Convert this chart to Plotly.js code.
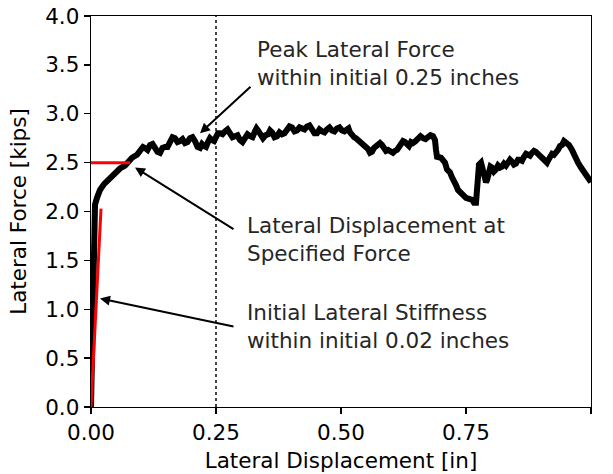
<!DOCTYPE html>
<html>
<head>
<meta charset="utf-8">
<script src="https://cdn.plot.ly/plotly-3.0.1.min.js"></script>
<style>html,body{margin:0;padding:0;background:#fff;}#chart{width:613px;height:474px;}</style>
</head>
<body>
<div id="chart"></div>
<script>
// Lateral displacement [in] and lateral force [kips]
const dispIn = [0,0.001,0.002,0.003,0.004,0.006,0.008,0.012,0.018,0.026,0.038,0.048,0.058,0.068,0.074,0.082,0.092,
0.100,0.104,0.108,0.113,0.118,0.123,0.128,0.133,0.138,0.143,0.148,0.153,0.158,0.163,0.168,0.173,0.178,0.183,0.188,0.193,0.198,0.203,0.208,0.213,0.218,0.222,0.226,0.230,0.234,0.238,0.242,0.246,0.250,0.254,0.258,0.263,0.268,0.273,0.278,0.283,0.288,0.293,0.298,0.303,0.308,0.313,0.318,0.323,0.328,0.331,0.334,0.339,0.344,0.349,0.354,0.358,0.362,0.367,0.372,0.377,0.382,0.387,0.392,0.397,0.402,0.407,0.412,0.417,0.422,0.427,0.432,0.437,0.442,0.447,0.452,0.457,0.462,0.467,0.472,0.477,0.482,0.487,0.492,0.497,0.502,0.507,0.512,0.515,0.518,0.522,0.526,0.530,0.534,0.539,0.544,0.549,0.554,0.558,0.562,0.566,0.570,0.574,0.578,0.582,0.586,0.590,0.594,0.599,0.604,0.608,0.612,0.616,0.620,0.624,0.628,0.632,0.636,0.640,0.644,0.649,0.654,0.659,0.664,0.669,0.674,0.679,0.684,0.688,
0.690,0.692,0.700,0.708,0.712,0.718,0.722,0.726,0.730,0.734,0.740,0.744,0.750,0.756,0.762,0.766,0.770,0.772,0.774,
0.776,0.780,0.784,0.788,0.790,0.792,0.796,0.799,0.802,0.806,0.810,0.814,0.818,0.822,0.826,0.830,0.834,0.838,0.842,0.846,0.850,0.854,0.858,0.862,0.866,0.870,0.874,0.878,0.882,0.886,0.890,0.894,0.898,0.902,0.906,0.909,0.912,0.915,0.918,0.922,0.926,0.930,0.934,0.938,0.942,0.946,0.950,0.953,0.956,
0.962,0.968,0.974,0.980,0.986,0.992,0.998,1.000];
const forceKips = [0,0.28,0.79,1.30,1.71,1.97,2.07,2.14,2.22,2.28,2.34,2.41,2.44,2.47,2.51,2.55,2.58,
2.63,2.66,2.65,2.63,2.68,2.69,2.65,2.61,2.60,2.65,2.66,2.66,2.71,2.76,2.75,2.71,2.72,2.74,2.70,2.71,2.75,2.76,2.72,2.66,2.65,2.69,2.67,2.66,2.71,2.75,2.73,2.72,2.76,2.80,2.80,2.79,2.82,2.84,2.80,2.76,2.77,2.78,2.73,2.71,2.75,2.79,2.77,2.76,2.82,2.85,2.83,2.78,2.75,2.78,2.79,2.83,2.81,2.76,2.77,2.81,2.79,2.80,2.84,2.87,2.86,2.82,2.83,2.86,2.85,2.84,2.87,2.88,2.84,2.80,2.80,2.84,2.82,2.81,2.84,2.86,2.83,2.82,2.85,2.86,2.83,2.82,2.84,2.85,2.81,2.77,2.76,2.75,2.73,2.72,2.68,2.67,2.64,2.60,2.61,2.65,2.67,2.70,2.70,2.68,2.66,2.62,2.63,2.61,2.60,2.62,2.63,2.66,2.69,2.72,2.71,2.68,2.67,2.71,2.70,2.72,2.74,2.77,2.75,2.74,2.76,2.78,2.77,2.73,
2.63,2.56,2.55,2.50,2.43,2.40,2.35,2.32,2.27,2.22,2.19,2.15,2.14,2.13,2.12,2.09,2.09,2.22,2.37,
2.48,2.50,2.43,2.34,2.30,2.32,2.40,2.46,2.45,2.41,2.43,2.47,2.45,2.46,2.49,2.47,2.50,2.53,2.51,2.48,2.49,2.53,2.53,2.52,2.56,2.59,2.58,2.57,2.60,2.62,2.61,2.58,2.57,2.55,2.53,2.50,2.50,2.53,2.55,2.59,2.58,2.60,2.63,2.67,2.68,2.72,2.71,2.70,2.68,
2.63,2.55,2.50,2.45,2.40,2.37,2.32,2.30];

// Initial stiffness line and specified-force line
const stiffX = [0, 0.02];
const stiffY = [0, 2.03];
const specX = [0, 0.078];
const specY = [2.5, 2.5];

// Peak window marker
const peakWindowX = [0.25, 0.25];
const peakWindowY = [0, 4];

const xTicks = [0, 0.25, 0.5, 0.75, 1.0];
const xTickText = ['0.00', '0.25', '0.50', '0.75', '1.00'];
const yTicks = [0, 0.5, 1.0, 1.5, 2.0, 2.5, 3.0, 3.5, 4.0];
const yTickText = ['0.0', '0.5', '1.0', '1.5', '2.0', '2.5', '3.0', '3.5', '4.0'];

const annText = [
  'Peak Lateral Force<br>within initial 0.25 inches',
  'Lateral Displacement at<br>Specified Force',
  'Initial Lateral Stiffness<br>within initial 0.02 inches'
];
const annTextPos = [[0.328, 3.51], [0.308, 1.71], [0.308, 0.82]];
const arrowHead = [[0.218, 2.80], [0.088, 2.45], [0.018, 1.11]];
const arrowTail = [[0.322, 3.29], [0.288, 1.81], [0.288, 0.82]];

const font = 'DejaVu Sans, Liberation Sans, sans-serif';
const fs = 21.5;

const traces = [
  {x: peakWindowX, y: peakWindowY, mode: 'lines', line: {color: '#444', width: 2, dash: 'dot'}, hoverinfo: 'skip'},
  {x: dispIn, y: forceKips, mode: 'lines', line: {color: '#000', width: 6}, hoverinfo: 'skip'},
  {x: stiffX, y: stiffY, mode: 'lines', line: {color: 'red', width: 3}, hoverinfo: 'skip'},
  {x: specX, y: specY, mode: 'lines', line: {color: 'red', width: 3}, hoverinfo: 'skip'}
];

const annotations = [];
for (let i = 0; i < annText.length; i++) {
  annotations.push({
    x: arrowHead[i][0], y: arrowHead[i][1], xref: 'x', yref: 'y',
    ax: arrowTail[i][0], ay: arrowTail[i][1], axref: 'x', ayref: 'y',
    text: '', showarrow: true, arrowhead: 2, arrowsize: 1, arrowwidth: 2, arrowcolor: '#000', standoff: 0, startstandoff: 0
  });
  annotations.push({
    x: annTextPos[i][0], y: annTextPos[i][1], xref: 'x', yref: 'y',
    text: annText[i], showarrow: false, xanchor: 'left', yanchor: 'middle', align: 'left',
    font: {family: font, size: fs, color: '#262626'}
  });
}

const axisCommon = {
  showgrid: false, zeroline: false, showline: true, mirror: true,
  linecolor: '#000', linewidth: 1.3, ticks: 'outside', ticklen: 6, tickwidth: 1.3, tickcolor: '#000',
  tickfont: {family: font, size: fs, color: '#000'}
};

const layout = {
  width: 613, height: 474,
  margin: {l: 91, r: 22, t: 16, b: 67},
  paper_bgcolor: '#fff', plot_bgcolor: '#fff',
  showlegend: false,
  xaxis: Object.assign({}, axisCommon, {
    range: [0, 1], tickvals: xTicks, ticktext: xTickText,
    title: {text: 'Lateral Displacement [in]', font: {family: font, size: fs, color: '#000'}, standoff: 9}
  }),
  yaxis: Object.assign({}, axisCommon, {
    range: [0, 4], tickvals: yTicks, ticktext: yTickText,
    title: {text: 'Lateral Force [kips]', font: {family: font, size: fs, color: '#000'}, standoff: 12}
  }),
  annotations: annotations
};

Plotly.newPlot('chart', traces, layout, {displayModeBar: false, staticPlot: true});
</script>
</body>
</html>
